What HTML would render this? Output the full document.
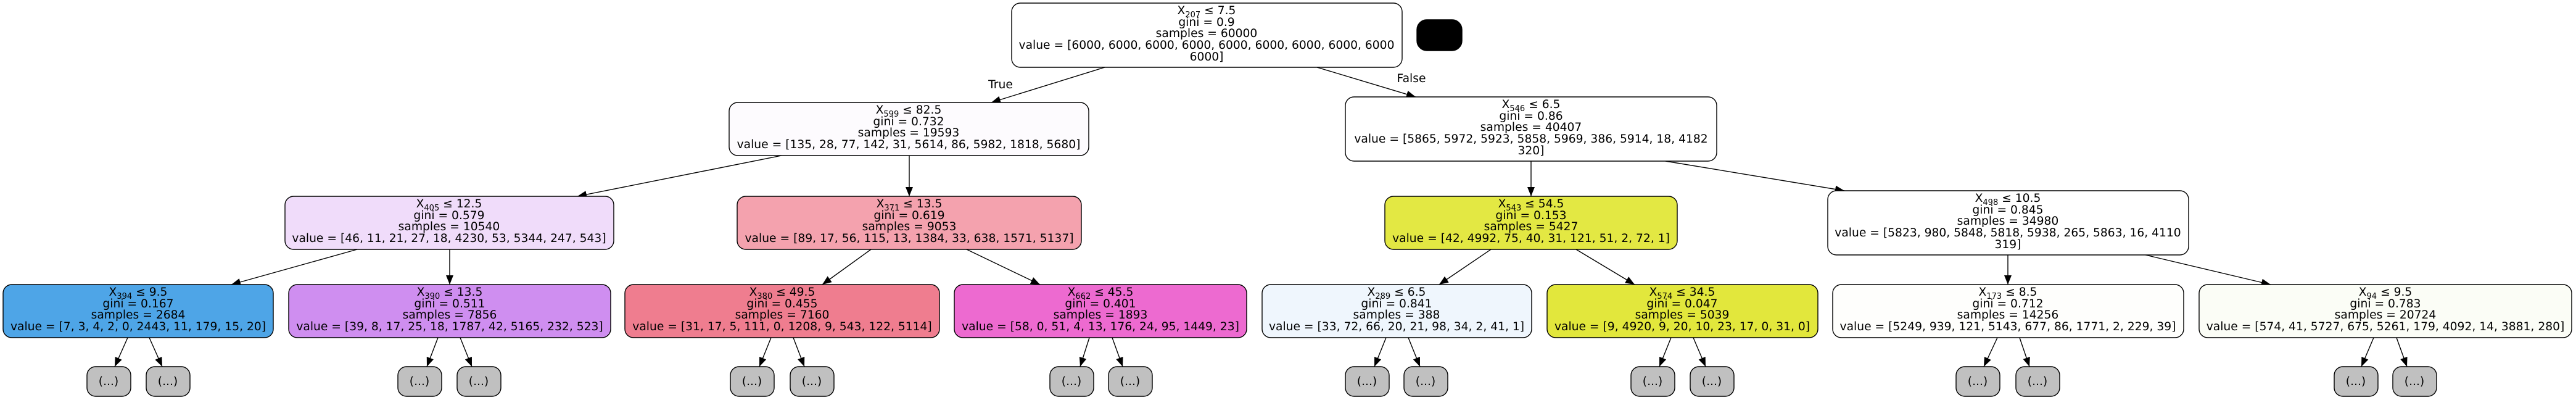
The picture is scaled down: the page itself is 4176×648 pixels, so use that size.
<!DOCTYPE html>
<html><head><meta charset="utf-8"><style>
html,body{margin:0;padding:0;background:#fff;}
svg{display:block;}
text{font-family:"DejaVu Sans","Liberation Sans",sans-serif;font-size:18.7px;fill:#000;}
.n{stroke:#000;stroke-width:1.4;}
.e{stroke:#000;stroke-width:1.4;fill:none;}
</style></head><body>
<svg width="4176" height="648" viewBox="0 0 4176 648" xmlns="http://www.w3.org/2000/svg">
<defs>
<marker id="a" markerUnits="userSpaceOnUse" markerWidth="16" markerHeight="12" refX="15" refY="6" orient="auto">
<path d="M0,0 L15,6 L0,12 Z" fill="#000"/>
</marker>
</defs>
<!-- edges -->
<g class="e" marker-end="url(#a)">
<line x1="1791" y1="109" x2="1607" y2="166"/>
<line x1="2135" y1="109" x2="2295" y2="157"/>
<line x1="1267" y1="252" x2="936" y2="318"/>
<line x1="1474" y1="252" x2="1474" y2="318"/>
<line x1="579" y1="404" x2="375" y2="461"/>
<line x1="729" y1="404" x2="729" y2="461"/>
<line x1="207" y1="547" x2="186" y2="594"/>
<line x1="242" y1="547" x2="263" y2="594"/>
<line x1="710" y1="547" x2="692" y2="594"/>
<line x1="746" y1="547" x2="765" y2="594"/>
<line x1="1412" y1="404" x2="1333" y2="461"/>
<line x1="1567" y1="404" x2="1686" y2="461"/>
<line x1="1250" y1="547" x2="1231" y2="594"/>
<line x1="1286" y1="547" x2="1304" y2="594"/>
<line x1="1766" y1="547" x2="1751" y2="594"/>
<line x1="1803" y1="547" x2="1820" y2="594"/>
<line x1="2482" y1="261" x2="2482" y2="318"/>
<line x1="2700" y1="261" x2="2990" y2="309"/>
<line x1="2417" y1="404" x2="2333" y2="461"/>
<line x1="2555" y1="404" x2="2650" y2="461"/>
<line x1="2247" y1="547" x2="2228" y2="594"/>
<line x1="2283" y1="547" x2="2302" y2="594"/>
<line x1="2709" y1="547" x2="2690" y2="594"/>
<line x1="2745" y1="547" x2="2765" y2="594"/>
<line x1="3255" y1="413" x2="3255" y2="461"/>
<line x1="3478" y1="413" x2="3681" y2="461"/>
<line x1="3238" y1="547" x2="3216" y2="594"/>
<line x1="3274" y1="547" x2="3290" y2="594"/>
<line x1="3848" y1="547" x2="3828" y2="594"/>
<line x1="3885" y1="547" x2="3902" y2="594"/>
</g>
<text x="1622" y="143" text-anchor="middle">True</text>
<text x="2288" y="133" text-anchor="middle">False</text>

<!-- nodes -->
<g class="n">
<rect x="1640" y="5" width="633" height="104" rx="14" fill="#ffffff"/>
<rect x="2297" y="32" width="73" height="50" rx="16" fill="#000000"/>
<rect x="1182" y="166" width="583" height="86" rx="14" fill="#fdfbfe"/>
<rect x="2181" y="157" width="602" height="104" rx="14" fill="#ffffff"/>
<rect x="462" y="318" width="533" height="86" rx="14" fill="#f0dcfa"/>
<rect x="1195" y="318" width="558" height="86" rx="14" fill="#f4a2ae"/>
<rect x="2245" y="318" width="474" height="86" rx="14" fill="#e3e843"/>
<rect x="2963" y="309" width="585" height="104" rx="14" fill="#ffffff"/>
<rect x="5" y="461" width="438" height="86" rx="14" fill="#4ea5e7"/>
<rect x="468" y="461" width="522" height="86" rx="14" fill="#cf8ef0"/>
<rect x="1013" y="461" width="510" height="86" rx="14" fill="#ef7d8f"/>
<rect x="1547" y="461" width="474" height="86" rx="14" fill="#ed6ad0"/>
<rect x="2046" y="461" width="437" height="86" rx="14" fill="#eff6fd"/>
<rect x="2508" y="461" width="439" height="86" rx="14" fill="#e2e73c"/>
<rect x="2971" y="461" width="569" height="86" rx="14" fill="#fefefc"/>
<rect x="3565" y="461" width="604" height="86" rx="14" fill="#fbfdf6"/>
</g>
<g class="n" fill="#c0c0c0">
<rect x="141" y="594" width="71" height="48" rx="14"/>
<rect x="237" y="594" width="71" height="48" rx="14"/>
<rect x="645" y="594" width="71" height="48" rx="14"/>
<rect x="741" y="594" width="71" height="48" rx="14"/>
<rect x="1184" y="594" width="71" height="48" rx="14"/>
<rect x="1281" y="594" width="71" height="48" rx="14"/>
<rect x="1702" y="594" width="71" height="48" rx="14"/>
<rect x="1797" y="594" width="71" height="48" rx="14"/>
<rect x="2181" y="594" width="71" height="48" rx="14"/>
<rect x="2276" y="594" width="71" height="48" rx="14"/>
<rect x="2644" y="594" width="71" height="48" rx="14"/>
<rect x="2740" y="594" width="71" height="48" rx="14"/>
<rect x="3171" y="594" width="71" height="48" rx="14"/>
<rect x="3268" y="594" width="71" height="48" rx="14"/>
<rect x="3784" y="594" width="71" height="48" rx="14"/>
<rect x="3879" y="594" width="71" height="48" rx="14"/>
</g>
<g text-anchor="middle">
<text x="176" y="624">(...)</text><text x="272" y="624">(...)</text>
<text x="680" y="624">(...)</text><text x="776" y="624">(...)</text>
<text x="1219" y="624">(...)</text><text x="1316" y="624">(...)</text>
<text x="1737" y="624">(...)</text><text x="1832" y="624">(...)</text>
<text x="2216" y="624">(...)</text><text x="2311" y="624">(...)</text>
<text x="2679" y="624">(...)</text><text x="2775" y="624">(...)</text>
<text x="3206" y="624">(...)</text><text x="3303" y="624">(...)</text>
<text x="3819" y="624">(...)</text><text x="3914" y="624">(...)</text>

<!-- root -->
<text x="1956" y="23">X<tspan font-size="13" dy="5">207</tspan><tspan dy="-5"> ≤ 7.5</tspan></text>
<text x="1956" y="42">gini = 0.9</text>
<text x="1956" y="60">samples = 60000</text>
<text x="1956" y="79">value = [6000, 6000, 6000, 6000, 6000, 6000, 6000, 6000, 6000</text>
<text x="1956" y="98">6000]</text>

<!-- X599 -->
<text x="1473" y="184">X<tspan font-size="13" dy="5">599</tspan><tspan dy="-5"> ≤ 82.5</tspan></text>
<text x="1473" y="203">gini = 0.732</text>
<text x="1473" y="221">samples = 19593</text>
<text x="1473" y="240">value = [135, 28, 77, 142, 31, 5614, 86, 5982, 1818, 5680]</text>

<!-- X546 -->
<text x="2482" y="175">X<tspan font-size="13" dy="5">546</tspan><tspan dy="-5"> ≤ 6.5</tspan></text>
<text x="2482" y="194">gini = 0.86</text>
<text x="2482" y="212">samples = 40407</text>
<text x="2482" y="231">value = [5865, 5972, 5923, 5858, 5969, 386, 5914, 18, 4182</text>
<text x="2482" y="250">320]</text>

<!-- X405 -->
<text x="728" y="336">X<tspan font-size="13" dy="5">405</tspan><tspan dy="-5"> ≤ 12.5</tspan></text>
<text x="728" y="355">gini = 0.579</text>
<text x="728" y="373">samples = 10540</text>
<text x="728" y="392">value = [46, 11, 21, 27, 18, 4230, 53, 5344, 247, 543]</text>

<!-- X371 -->
<text x="1474" y="336">X<tspan font-size="13" dy="5">371</tspan><tspan dy="-5"> ≤ 13.5</tspan></text>
<text x="1474" y="355">gini = 0.619</text>
<text x="1474" y="373">samples = 9053</text>
<text x="1474" y="392">value = [89, 17, 56, 115, 13, 1384, 33, 638, 1571, 5137]</text>

<!-- X543 -->
<text x="2482" y="336">X<tspan font-size="13" dy="5">543</tspan><tspan dy="-5"> ≤ 54.5</tspan></text>
<text x="2482" y="355">gini = 0.153</text>
<text x="2482" y="373">samples = 5427</text>
<text x="2482" y="392">value = [42, 4992, 75, 40, 31, 121, 51, 2, 72, 1]</text>

<!-- X498 -->
<text x="3255" y="327">X<tspan font-size="13" dy="5">498</tspan><tspan dy="-5"> ≤ 10.5</tspan></text>
<text x="3255" y="346">gini = 0.845</text>
<text x="3255" y="364">samples = 34980</text>
<text x="3255" y="383">value = [5823, 980, 5848, 5818, 5938, 265, 5863, 16, 4110</text>
<text x="3255" y="402">319]</text>

<!-- level 3 -->
<text x="224" y="479">X<tspan font-size="13" dy="5">394</tspan><tspan dy="-5"> ≤ 9.5</tspan></text>
<text x="224" y="498">gini = 0.167</text>
<text x="224" y="516">samples = 2684</text>
<text x="224" y="535">value = [7, 3, 4, 2, 0, 2443, 11, 179, 15, 20]</text>

<text x="729" y="479">X<tspan font-size="13" dy="5">390</tspan><tspan dy="-5"> ≤ 13.5</tspan></text>
<text x="729" y="498">gini = 0.511</text>
<text x="729" y="516">samples = 7856</text>
<text x="729" y="535">value = [39, 8, 17, 25, 18, 1787, 42, 5165, 232, 523]</text>

<text x="1268" y="479">X<tspan font-size="13" dy="5">380</tspan><tspan dy="-5"> ≤ 49.5</tspan></text>
<text x="1268" y="498">gini = 0.455</text>
<text x="1268" y="516">samples = 7160</text>
<text x="1268" y="535">value = [31, 17, 5, 111, 0, 1208, 9, 543, 122, 5114]</text>

<text x="1784" y="479">X<tspan font-size="13" dy="5">662</tspan><tspan dy="-5"> ≤ 45.5</tspan></text>
<text x="1784" y="498">gini = 0.401</text>
<text x="1784" y="516">samples = 1893</text>
<text x="1784" y="535">value = [58, 0, 51, 4, 13, 176, 24, 95, 1449, 23]</text>

<text x="2264" y="479">X<tspan font-size="13" dy="5">289</tspan><tspan dy="-5"> ≤ 6.5</tspan></text>
<text x="2264" y="498">gini = 0.841</text>
<text x="2264" y="516">samples = 388</text>
<text x="2264" y="535">value = [33, 72, 66, 20, 21, 98, 34, 2, 41, 1]</text>

<text x="2727" y="479">X<tspan font-size="13" dy="5">574</tspan><tspan dy="-5"> ≤ 34.5</tspan></text>
<text x="2727" y="498">gini = 0.047</text>
<text x="2727" y="516">samples = 5039</text>
<text x="2727" y="535">value = [9, 4920, 9, 20, 10, 23, 17, 0, 31, 0]</text>

<text x="3255" y="479">X<tspan font-size="13" dy="5">173</tspan><tspan dy="-5"> ≤ 8.5</tspan></text>
<text x="3255" y="498">gini = 0.712</text>
<text x="3255" y="516">samples = 14256</text>
<text x="3255" y="535">value = [5249, 939, 121, 5143, 677, 86, 1771, 2, 229, 39]</text>

<text x="3867" y="479">X<tspan font-size="13" dy="5">94</tspan><tspan dy="-5"> ≤ 9.5</tspan></text>
<text x="3867" y="498">gini = 0.783</text>
<text x="3867" y="516">samples = 20724</text>
<text x="3867" y="535">value = [574, 41, 5727, 675, 5261, 179, 4092, 14, 3881, 280]</text>
</g>
</svg>
</body></html>
